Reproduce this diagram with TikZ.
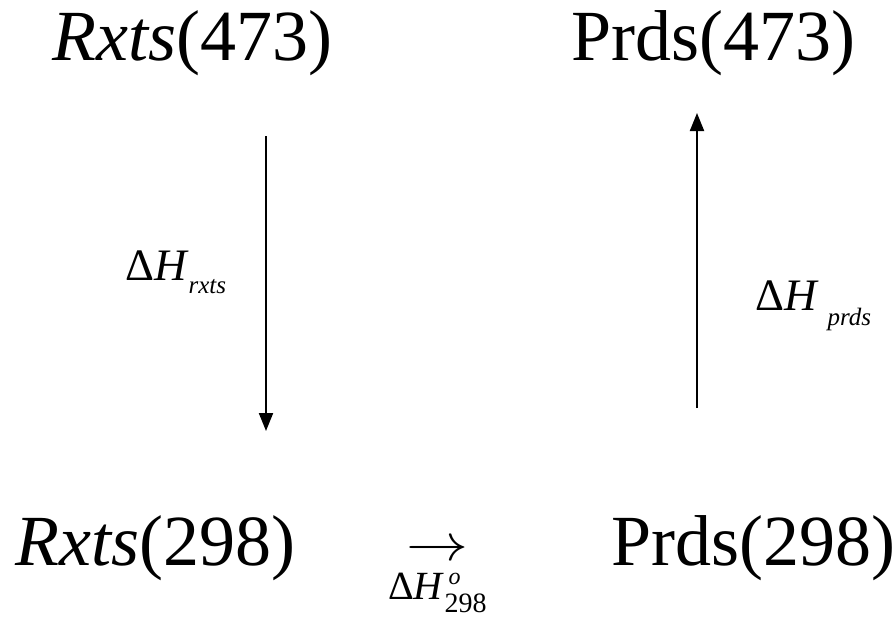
\documentclass[tikz,border=0pt]{standalone}
\usepackage{fontspec}
\setmainfont{Liberation Serif}
\usetikzlibrary{arrows.meta}
\begin{document}
\begin{tikzpicture}[x=1pt,y=-1pt,
  big/.style={font=\fontsize{72}{80}\selectfont, inner sep=0pt, anchor=base west},
  lab/.style={font=\fontsize{45}{50}\selectfont, inner sep=0pt, anchor=base west},
  arr/.style={-{Triangle[length=18pt,width=14pt]}, line width=2pt}]
\useasboundingbox (0,0) rectangle (896,618);
\node[big] (r473) at (52,60) {\textit{Rxts}(473)};
\node[big] (p473) at (571,60) {Prds(473)};
\node[big] (r298) at (15,565) {\textit{Rxts}(298)};
\node[big] (p298) at (611,565) {Prds(298)};
\coordinate (a1s) at (266,136);
\coordinate (a1e) at (266,431);
\coordinate (a2s) at (697,408);
\coordinate (a2e) at (697,113);
\draw[arr] (a1s) -- (a1e);
\draw[arr] (a2s) -- (a2e);
\node[lab] (hr) at (125,280) {Δ\textit{H}\raisebox{-13pt}{\fontsize{25}{27}\selectfont\textit{rxts}}};
\node[lab] (hp) at (755,310) {Δ\textit{H}\hspace{9pt}\raisebox{-15pt}{\fontsize{25}{27}\selectfont\textit{prds}}};
\node[inner sep=0pt, anchor=base west] (arrow) at (406,560) {\scalebox{6.2}[5.2]{$\rightarrow$}};
\node[inner sep=0pt, anchor=base west, font=\fontsize{40}{44}\selectfont] (h298) at (388,599) {Δ\textit{H}\rlap{\hspace{4pt}\raisebox{15pt}{\fontsize{24}{26}\selectfont\textit{o}}}\raisebox{-13pt}{\fontsize{28}{30}\selectfont 298}};
\end{tikzpicture}
\end{document}
